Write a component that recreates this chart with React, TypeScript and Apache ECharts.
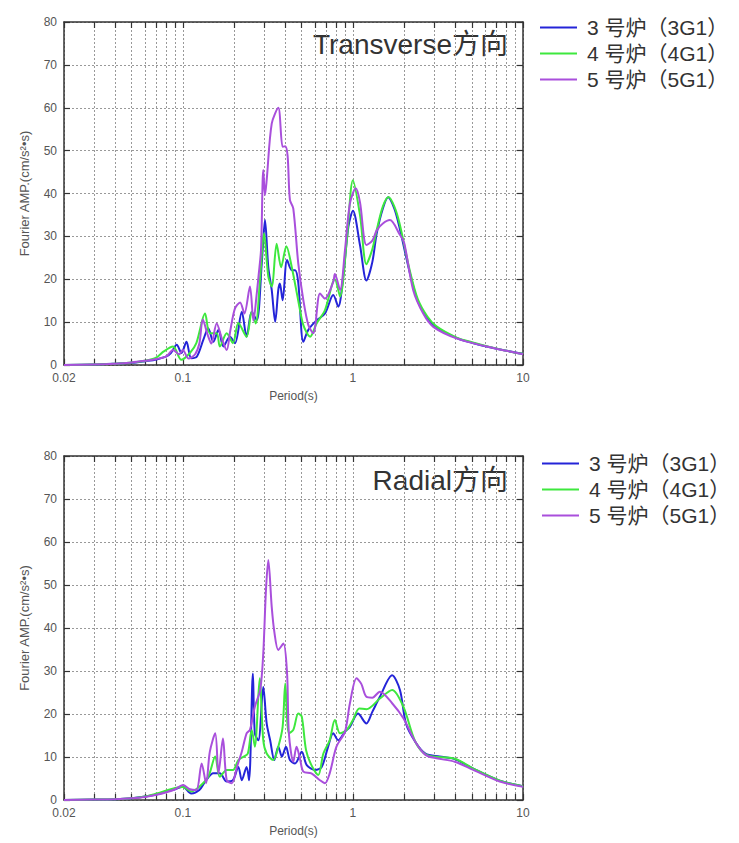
import React, { useEffect, useRef } from "react";
import * as echarts from "echarts";

const seriesNames = ["3 号炉（3G1）", "4 号炉（4G1）", "5 号炉（5G1）"];
const seriesColors = ["#2424d8", "#3ee83e", "#a94fdc"];
const xTickValues = [0.02, 0.03, 0.04, 0.05, 0.06, 0.07, 0.08, 0.09, 0.1, 0.2, 0.3, 0.4, 0.5, 0.6, 0.7, 0.8, 0.9, 1, 2, 3, 4, 5, 6, 7, 8, 9, 10];
const xLabelValues = [0.02, 0.1, 1, 10];
const chartTitles = ["Transverse方向", "Radial方向"];

// Transverse (top) — [period s, Fourier amplitude]
const transverse3G1 = [[0.02,0],[0.03,0.1],[0.04,0.3],[0.05,0.5],[0.06,0.9],[0.07,1.3],[0.08,2],[0.085,2.8],[0.092,4.7],[0.098,2.8],[0.105,5.4],[0.112,1.6],[0.121,2],[0.132,5.9],[0.141,8.6],[0.151,5.4],[0.162,8.2],[0.173,4.3],[0.189,6.6],[0.2025,5.1],[0.222,12.4],[0.237,6.6],[0.254,12.4],[0.272,10.4],[0.291,23.7],[0.304,33.8],[0.318,22.8],[0.333,17.5],[0.349,10.1],[0.364,17.5],[0.372,19],[0.386,15.1],[0.41,24.5],[0.437,22.1],[0.457,22.1],[0.477,19.2],[0.511,5.4],[0.547,8.2],[0.611,10.4],[0.685,12],[0.766,16.3],[0.82,13.6],[0.88,21.3],[0.94,32.2],[1.0,36],[1.1,28],[1.2,19.7],[1.3,24],[1.38,30.7],[1.5,36.5],[1.61,39.1],[1.75,36.5],[1.88,32],[2.16,21.5],[2.4,15],[2.74,11],[3.1,8.8],[4.07,6.3],[5,5.2],[6.1,4.3],[8,3.3],[10,2.6]];
const transverse4G1 = [[0.02,0],[0.03,0.1],[0.04,0.3],[0.05,0.6],[0.06,1],[0.07,1.8],[0.0768,3.1],[0.0875,4.3],[0.098,1.2],[0.11,2.8],[0.12,5.1],[0.135,12],[0.144,7.4],[0.158,7.4],[0.165,4.3],[0.181,7.4],[0.197,5.1],[0.212,9.8],[0.237,6.6],[0.254,12.4],[0.268,9.7],[0.285,20.6],[0.3,30.7],[0.318,20.6],[0.333,18.3],[0.356,28.3],[0.378,22.8],[0.406,27.7],[0.437,22.8],[0.477,15],[0.511,9.3],[0.56,6.6],[0.611,9.7],[0.685,12.8],[0.783,20],[0.84,16],[0.92,29],[1.0,43.1],[1.1,35],[1.2,23.5],[1.3,27],[1.38,31.5],[1.5,37],[1.62,39.2],[1.75,37],[1.88,33],[2.16,22],[2.4,15.5],[2.74,11.3],[3.1,9],[4.07,6.4],[5,5.3],[6.1,4.4],[8,3.3],[10,2.6]];
const transverse5G1 = [[0.02,0],[0.03,0.1],[0.04,0.3],[0.05,0.6],[0.06,1],[0.07,1.4],[0.08,2],[0.0875,3.5],[0.095,2.5],[0.1,3.5],[0.108,1.5],[0.118,2.5],[0.125,5],[0.131,10.6],[0.14,7],[0.147,5],[0.158,9.7],[0.17,6],[0.181,3.5],[0.19,8],[0.2025,13.2],[0.217,14.6],[0.23,12],[0.248,18.3],[0.26,10.3],[0.272,16.7],[0.279,21],[0.288,26.8],[0.297,45.5],[0.304,39.6],[0.311,43.1],[0.333,56.3],[0.364,60],[0.386,50.9],[0.4,51],[0.413,48.7],[0.426,38.5],[0.446,36.5],[0.477,23.7],[0.511,15.1],[0.547,9.3],[0.585,7.4],[0.64,16.7],[0.685,15.5],[0.766,19.4],[0.783,21.2],[0.84,17.5],[0.898,26.8],[0.96,37.7],[1.04,41.2],[1.1,38],[1.2,28],[1.3,29],[1.38,31.4],[1.5,33],[1.65,33.8],[1.88,30.5],[2.0,28.5],[2.26,17.5],[2.59,12],[2.97,8.9],[4.07,6.2],[6.11,4.3],[8,3.3],[10,2.5]];

// Radial (bottom)
const radial3G1 = [[0.02,0],[0.03,0.1],[0.04,0.2],[0.05,0.4],[0.06,0.8],[0.07,1.3],[0.08,2],[0.09,2.5],[0.1,3.1],[0.112,1.5],[0.125,2.3],[0.137,4.6],[0.151,6.2],[0.165,6.2],[0.181,4.3],[0.197,4.6],[0.212,7.7],[0.222,4.6],[0.237,7.7],[0.245,4.6],[0.258,29.4],[0.265,15.5],[0.278,13.9],[0.297,26.3],[0.311,17.8],[0.326,13.9],[0.345,9.3],[0.364,12.4],[0.382,10.1],[0.404,12.4],[0.426,9.3],[0.457,8.5],[0.5,11.2],[0.535,8.1],[0.6,7],[0.655,7.7],[0.71,12],[0.766,15.5],[0.82,13.9],[0.898,15.9],[0.96,17],[1.07,20.1],[1.2,17.8],[1.3,20.5],[1.44,24],[1.7,29],[1.89,25.6],[2.05,17.8],[2.33,13.5],[2.67,10.8],[3.23,10.1],[3.97,9.5],[5.1,7.3],[7.3,4.5],[10,3.2]];
const radial4G1 = [[0.02,0],[0.03,0.1],[0.04,0.2],[0.05,0.4],[0.06,0.8],[0.07,1.5],[0.08,2.2],[0.09,2.8],[0.1,3],[0.112,2],[0.125,3.1],[0.141,5.4],[0.155,10.1],[0.165,5.4],[0.181,7],[0.197,7],[0.212,9.3],[0.228,10.1],[0.241,10.8],[0.254,16.3],[0.265,12.4],[0.283,28.3],[0.297,13.9],[0.311,10.8],[0.34,9.3],[0.364,12.4],[0.386,17],[0.4,27.1],[0.42,15.5],[0.446,16.3],[0.477,20.1],[0.5,19.4],[0.53,11.6],[0.57,8.1],[0.625,5.8],[0.67,10.8],[0.73,13.9],[0.783,18.6],[0.84,15.5],[0.92,16.3],[1.0,18.6],[1.09,21.3],[1.2,21.1],[1.44,23.6],[1.7,25.6],[1.98,21.7],[2.33,13.5],[2.74,10.4],[3.97,9.6],[5.1,7.3],[7.3,4.5],[10,3.2]];
const radial5G1 = [[0.02,0],[0.03,0.1],[0.04,0.2],[0.05,0.4],[0.06,0.7],[0.07,1.2],[0.08,1.8],[0.09,2.5],[0.1,3.5],[0.11,2.5],[0.12,2.3],[0.129,8.5],[0.137,3.9],[0.144,11.2],[0.155,15.5],[0.162,6.2],[0.172,14.3],[0.181,4.6],[0.194,3.9],[0.208,7.7],[0.222,11.2],[0.237,15.5],[0.248,16.3],[0.265,21.7],[0.285,25.6],[0.297,34.1],[0.308,48.8],[0.318,55.8],[0.333,44.9],[0.345,39.1],[0.364,34.9],[0.39,36.4],[0.41,29.4],[0.42,15.5],[0.446,8.9],[0.466,12.4],[0.49,9.3],[0.511,6.6],[0.57,6.2],[0.64,4.6],[0.685,3.9],[0.73,6.2],[0.8,12.4],[0.898,15.9],[0.96,22.5],[1.05,28.3],[1.12,27],[1.2,24],[1.3,23.8],[1.44,25.2],[1.7,22.5],[1.98,19],[2.33,13.5],[2.67,10.5],[3.1,9.7],[3.97,8.9],[5.1,7],[7.3,4.3],[10,3.1]];

const FONT = "'Liberation Sans', 'Noto Sans CJK SC', sans-serif";

export default function App() {
  const ref = useRef<HTMLDivElement>(null);
  useEffect(() => {
    document.body.style.margin = "0";
    if (!ref.current) return;
    const chart = echarts.init(ref.current, null, { renderer: "svg" });
    const grids = [
      { left: 64, top: 22, width: 459, height: 343 },
      { left: 64, top: 456, width: 459, height: 344 },
    ];
    const fmt = (v: number) => String(+Number(v).toPrecision(3));
    const xAxes: any[] = [];
    const yAxes: any[] = [];
    grids.forEach((_, g) => {
      ["bottom", "top"].forEach((pos) => {
        const main = pos === "bottom";
        xAxes.push({
          type: "log", logBase: 10, min: 0.02, max: 10, gridIndex: g, position: pos,
          axisLine: { show: true, onZero: false, lineStyle: { color: "#333", width: 1.5 } },
          axisTick: { show: true, inside: true, length: 6, customValues: xTickValues, lineStyle: { color: "#333", width: 1.2 } },
          axisLabel: {
            show: main, customValues: xLabelValues, formatter: fmt, margin: 7,
            color: "#555", fontSize: 12, fontFamily: FONT,
          },
          splitLine: { show: main, lineStyle: { type: [2, 2], color: "#999", width: 1 } },
          name: main ? "Period(s)" : "", nameLocation: "middle", nameGap: 25,
          nameTextStyle: { fontSize: 12, color: "#555", fontFamily: FONT },
        });
      });
      ["left", "right"].forEach((pos) => {
        const main = pos === "left";
        yAxes.push({
          type: "value", min: 0, max: 80, interval: 10, gridIndex: g, position: pos,
          axisLine: { show: true, onZero: false, lineStyle: { color: "#333", width: 1.5 } },
          axisTick: { show: true, inside: true, length: 6, lineStyle: { color: "#333", width: 1.2 } },
          axisLabel: { show: main, margin: 7, color: "#555", fontSize: 12, fontFamily: FONT },
          splitLine: { show: main, lineStyle: { type: [2, 2], color: "#999", width: 1 } },
          name: main ? "Fourier AMP.(cm/s²•s)" : "", nameLocation: "middle", nameGap: 33,
          nameTextStyle: { fontSize: 13, color: "#555", fontFamily: FONT },
        });
      });
    });
    const datasets = [
      [transverse3G1, transverse4G1, transverse5G1],
      [radial3G1, radial4G1, radial5G1],
    ];
    const series: any[] = [];
    datasets.forEach((set, g) => {
      set.forEach((d, i) => {
        series.push({
          type: "line", name: seriesNames[i], data: d,
          xAxisIndex: g * 2, yAxisIndex: g * 2,
          showSymbol: false, symbol: "none", smooth: 0.3,
          lineStyle: { color: seriesColors[i], width: 2 },
          itemStyle: { color: seriesColors[i] },
        });
      });
    });
    const legendBase = {
      orient: "vertical", icon: "rect", itemWidth: 37, itemHeight: 2, itemGap: 5,
      data: seriesNames, selectedMode: false,
      textStyle: { fontSize: 21, color: "#333", fontFamily: FONT, padding: [0, 0, 0, 5] },
    };
    chart.setOption({
      animation: false,
      backgroundColor: "#fff",
      grid: grids,
      xAxis: xAxes,
      yAxis: yAxes,
      legend: [
        { ...legendBase, left: 535, top: 12 },
        { ...legendBase, left: 537, top: 448 },
      ],
      graphic: [
        { type: "text", x: 508, y: 44, style: { text: chartTitles[0], textAlign: "right", textVerticalAlign: "middle", fontSize: 28, fill: "#333", fontFamily: FONT } },
        { type: "text", x: 508, y: 480, style: { text: chartTitles[1], textAlign: "right", textVerticalAlign: "middle", fontSize: 28, fill: "#333", fontFamily: FONT } },
      ],
      series,
    });
    return () => chart.dispose();
  }, []);
  return <div ref={ref} style={{ width: 739, height: 843 }} />;
}
